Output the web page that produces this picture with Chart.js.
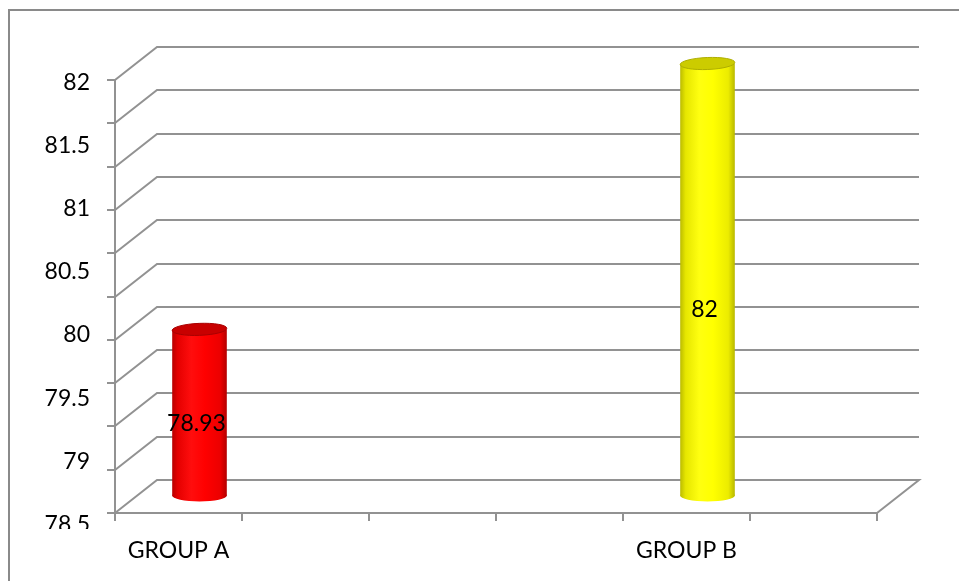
<!DOCTYPE html>
<html>
<head>
<meta charset="utf-8">
<title>GROUP A vs GROUP B</title>
<script src="https://cdn.jsdelivr.net/npm/chart.js@4/dist/chart.umd.min.js"></script>
<style>
  html, body { margin: 0; padding: 0; background: #ffffff; }
  canvas { display: block; }
</style>
</head>
<body>
<canvas id="chart" width="959" height="581"></canvas>
<script>
// ---- data ----
const categories = ['GROUP A', '', '', '', 'GROUP B', ''];
const scores = [78.93, null, null, null, 82, null];
const yTickLabels = [78.5, 79, 79.5, 80, 80.5, 81, 81.5, 82];

// ---- styling ----
const FONT = 'Lato, "Open Sans", sans-serif';
const LINE = '#929292';
const Y_MIN = 77;
const Y_MAX = 82;
const DEPTH = { dx: 42, dy: -33 };   // back-wall offset of the 3D box
const CAP_RY = 6;                     // vertical radius of cylinder caps
const BAR_PCT = 0.43;

const RED = {
  stops: [[0, '#b80000'], [0.1, '#e40000'], [0.35, '#ff0d0d'], [0.6, '#ff0000'], [0.88, '#ec0000'], [1, '#b40000']],
  cap: '#c80000', rim: '#a80000', flat: '#ff0000'
};
const YELLOW = {
  stops: [[0, '#bcbc00'], [0.1, '#e6e600'], [0.35, '#ffff10'], [0.6, '#ffff00'], [0.88, '#ecec00'], [1, '#b8b800']],
  cap: '#cccc00', rim: '#aeae00', flat: '#ffff00'
};
const barStyles = [RED, null, null, null, YELLOW, null];

function bodyGradient(ctx, cx, half, stops) {
  const g = ctx.createLinearGradient(cx - half, 0, cx + half, 0);
  stops.forEach(([o, c]) => g.addColorStop(o, c));
  return g;
}

function eachBar(chart, fn) {
  const meta = chart.getDatasetMeta(0);
  meta.data.forEach((el, i) => {
    const v = scores[i];
    if (v === null || v === undefined || !barStyles[i]) return;
    fn(el, barStyles[i], v);
  });
}

// 3D box, cylinder caps and value labels
const cylinder3d = {
  id: 'cylinder3d',
  beforeDraw(chart) {
    const ctx = chart.ctx;
    ctx.save();
    ctx.strokeStyle = '#8a8a8a';
    ctx.lineWidth = 2;
    ctx.strokeRect(9, 10, 2000, 2000);
    ctx.restore();
  },
  beforeDatasetsDraw(chart) {
    const { ctx, chartArea: a, scales: { y } } = chart;
    ctx.save();
    ctx.strokeStyle = LINE;
    ctx.lineWidth = 2;
    y.ticks.forEach(t => {
      const py = Math.round(y.getPixelForValue(t.value));
      ctx.beginPath();
      ctx.moveTo(a.left, py);
      ctx.lineTo(a.left + DEPTH.dx, py + DEPTH.dy);
      ctx.lineTo(a.right + DEPTH.dx, py + DEPTH.dy);
      if (t.value === y.min) ctx.lineTo(a.right, py);
      ctx.stroke();
    });
    ctx.restore();

    // bars sit halfway into the depth of the box
    ctx.save();
    ctx.translate(DEPTH.dx / 2, DEPTH.dy / 2);
    eachBar(chart, (el) => {
      ctx.beginPath();
      ctx.ellipse(el.x, el.base, el.width / 2, CAP_RY, 0, 0, Math.PI * 2);
      ctx.fillStyle = el.options.backgroundColor;
      ctx.fill();
    });
  },
  afterDatasetsDraw(chart) {
    const ctx = chart.ctx;
    eachBar(chart, (el, st, v) => {
      ctx.beginPath();
      ctx.ellipse(el.x, el.y, el.width / 2, CAP_RY, -0.04, 0, Math.PI * 2);
      ctx.fillStyle = st.cap;
      ctx.fill();
      ctx.strokeStyle = st.rim;
      ctx.lineWidth = 1;
      ctx.stroke();

      ctx.fillStyle = '#000000';
      ctx.font = '23px ' + FONT;
      ctx.textAlign = 'center';
      ctx.textBaseline = 'middle';
      ctx.fillText(String(v), el.x - 3, el.y + (el.base - el.y) * 0.57);
    });
    ctx.restore();
  },
  afterDraw(chart) {
    // lowest axis label is cut off by the plot frame
    const ctx = chart.ctx;
    ctx.save();
    ctx.fillStyle = '#ffffff';
    ctx.fillRect(14, 529, 90, 14);
    ctx.restore();
  }
};

new Chart(document.getElementById('chart'), {
  type: 'bar',
  data: {
    labels: categories,
    datasets: [{
      data: scores,
      base: Y_MIN,
      borderWidth: 0,
      clip: false,
      barPercentage: BAR_PCT,
      categoryPercentage: 1,
      backgroundColor: (c) => {
        const st = barStyles[c.dataIndex];
        if (!st) return 'rgba(0,0,0,0)';
        const xs = c.chart.scales.x;
        if (!xs || !c.chart.chartArea) return st.flat;
        const cx = xs.getPixelForValue(c.dataIndex);
        const half = xs.width / categories.length * BAR_PCT / 2;
        return bodyGradient(c.chart.ctx, cx, half, st.stops);
      }
    }]
  },
  options: {
    responsive: false,
    devicePixelRatio: 1,
    animation: false,
    layout: { padding: { top: 80, right: 82, bottom: 0, left: 0 } },
    plugins: { legend: { display: false }, tooltip: { enabled: false } },
    scales: {
      x: {
        grid: { display: true, drawOnChartArea: false, drawTicks: true, tickLength: 8, color: LINE, lineWidth: 2, offset: true },
        border: { display: true, color: LINE, width: 2 },
        ticks: { font: { family: FONT, size: 23 }, color: '#000000', padding: 16, autoSkip: false, maxRotation: 0 },
        afterFit: s => { s.height = 68; }
      },
      y: {
        position: 'left',
        weight: 0,
        min: Y_MIN,
        max: Y_MAX,
        ticks: { display: false, stepSize: 0.5 },
        grid: { display: true, drawOnChartArea: false, drawTicks: true, tickLength: 8, color: LINE, lineWidth: 2 },
        border: { display: true, color: LINE, width: 2 },
        afterFit: s => { s.width = 8; }
      },
      yLabels: {
        type: 'linear',
        axis: 'y',
        position: 'left',
        weight: 1,
        min: 78.59,
        max: 82.02,
        afterBuildTicks: s => { s.ticks = yTickLabels.map(v => ({ value: v })); },
        ticks: { font: { family: FONT, size: 23 }, color: '#000000', padding: 17, callback: v => String(v) },
        grid: { display: false, drawTicks: false },
        border: { display: false },
        afterFit: s => { s.width = 107; }
      }
    }
  },
  plugins: [cylinder3d]
});
</script>
</body>
</html>
